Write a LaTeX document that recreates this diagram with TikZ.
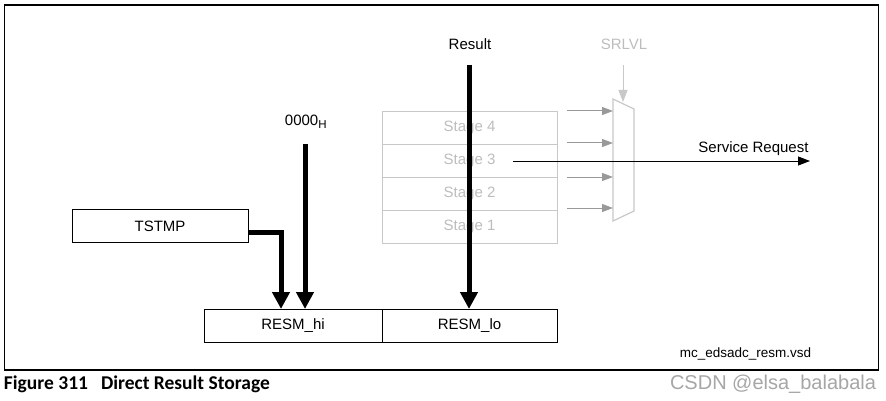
\documentclass[tikz,border=0pt]{standalone}
\usepackage{fontspec}
\setmainfont{Liberation Sans}
\newfontfamily\capfont{Carlito}
\usetikzlibrary{arrows.meta}
\definecolor{lightg}{HTML}{C8C8C8}
\definecolor{textg}{HTML}{BDBDBD}
\definecolor{arrg}{HTML}{999999}
\definecolor{wmark}{HTML}{A6A6A6}
\begin{document}
\begin{tikzpicture}[x=1pt,y=-1pt,
  every node/.style={inner sep=0pt,outer sep=0pt},
  lbl/.style={font=\fontsize{15}{15}\selectfont},
  regbox/.style={draw=black,line width=0.9pt,minimum height=33pt,font=\fontsize{15}{15}\selectfont},
  stagebox/.style={draw=lightg,line width=0.9pt,minimum width=175pt,minimum height=33pt,text=textg,font=\fontsize{15}{15}\selectfont},
  bus/.style={line width=5pt,-{Triangle[width=17pt,length=17pt]}},
  grayarr/.style={draw=arrg,line width=1pt,-{Triangle[width=8pt,length=11pt]}},
  thinarr/.style={draw=black,line width=0.9pt,-{Triangle[width=9pt,length=12pt]}}
]
\useasboundingbox (0,0) rectangle (886,401);
\draw[line width=1.2pt] (4.5,5) rectangle (878.5,370);

% registers
\node[regbox,minimum width=176pt] (tstmp) at (160,226) {TSTMP};
\node[regbox,minimum width=178pt] (hi) at (293,325.5) {RESM\_hi};
\node[regbox,minimum width=175pt] (lo) at (469.5,325.5) {RESM\_lo};

% stages
\node[stagebox] (s4) at (469.5,127.5) {Stage 4};
\node[stagebox] (s3) at (469.5,160.5) {Stage 3};
\node[stagebox] (s2) at (469.5,193.5) {Stage 2};
\node[stagebox] (s1) at (469.5,226.5) {Stage 1};

% mux
\coordinate (mtl) at (613,99);
\coordinate (mtr) at (634,109);
\coordinate (mbr) at (634,211);
\coordinate (mbl) at (613,221);
\draw[lightg,line width=1.2pt] (mtl) -- (mtr) -- (mbr) -- (mbl) -- cycle;
\node[text=textg,font=\fontsize{15}{15}\selectfont] (srlvl) at (624,44) {SRLVL};
\coordinate (srtip) at (623,102);
\draw[draw=lightg,line width=1pt,-{Triangle[width=9pt,length=12pt]}] (623,65) -- (srtip);
\foreach \yy [count=\i] in {111,143,177,208}{
  \coordinate (gin\i) at (567,\yy);
  \coordinate (gout\i) at (613,\yy);
  \draw[grayarr] (gin\i) -- (gout\i);
}

% service request
\coordinate (srs) at (513,161);
\coordinate (sre) at (810,161);
\draw[thinarr] (srs) -- (sre);
\node[lbl] (srq) at (753.5,149) {Service Request};

% result bus
\node[lbl] (res) at (470,44) {Result};
\coordinate (rtop) at (469,65);
\draw[bus] (rtop) -- (rtop |- lo.north);

% 0000H bus
\node[lbl] (zero) at (306,122) {0000\textsubscript{\fontsize{11.5}{11.5}\selectfont H}};
\coordinate (ztop) at (305,144);
\draw[bus] (ztop) -- (ztop |- hi.north);

% TSTMP bus
\coordinate (tsa) at (248,232);
\coordinate (tsb) at (281,232);
\draw[bus] (tsa) -- (tsb) -- (tsb |- hi.north);

% file name
\node[font=\fontsize{13.5}{13.5}\selectfont] (fn) at (745.5,354) {mc\_edsadc\_resm.vsd};

% caption
\node[anchor=west,font=\capfont\bfseries\fontsize{19.5}{19.5}\selectfont] (cap1) at (4,384) {Figure 311};
\node[anchor=west,font=\capfont\bfseries\fontsize{19.5}{19.5}\selectfont] (cap2) at (101,384) {Direct Result Storage};
\node[anchor=east,text=wmark,font=\fontsize{20}{20}\selectfont] (wm) at (876,384) {CSDN @elsa\_balabala};
\end{tikzpicture}
\end{document}
